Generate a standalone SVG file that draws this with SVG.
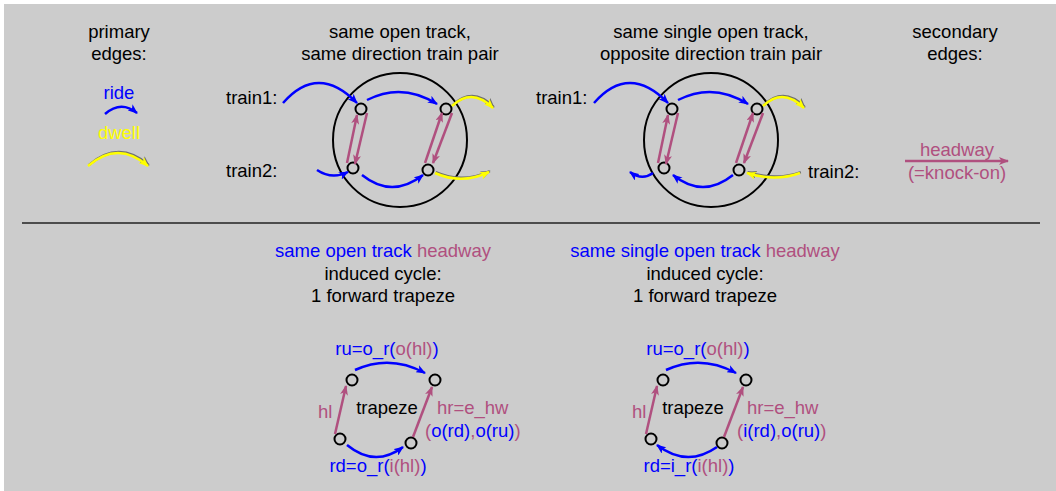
<svg xmlns="http://www.w3.org/2000/svg" width="1056" height="491" viewBox="0 0 1056 491">
<style>
text{font-family:"Liberation Sans",Arial,sans-serif;font-size:18.5px;fill:#000}
.c{text-anchor:middle}
.b{fill:#0000ff}
.p{fill:#b0507f}
.y{fill:#ffff00}
.eb{fill:none;stroke:#0000ff;stroke-width:2.5;marker-end:url(#ab)}
.ep{fill:none;stroke:#b0507f;stroke-width:2.5;marker-end:url(#ap)}
.ey{fill:none;stroke:#ffff00;stroke-width:2.5;marker-end:url(#ay)}
.es{fill:none;stroke:#707070;stroke-width:2.5;marker-end:url(#as)}
.n{fill:none;stroke:#000;stroke-width:2}
.ring{fill:none;stroke:#000;stroke-width:2}
</style>
<defs>
<marker id="ab" markerUnits="userSpaceOnUse" markerWidth="11" markerHeight="8" refX="9" refY="4" orient="auto"><path d="M0,0 L10,4 L0,8 L2.5,4 z" fill="#0000ff"/></marker>
<marker id="ap" markerUnits="userSpaceOnUse" markerWidth="11" markerHeight="8" refX="9" refY="4" orient="auto"><path d="M0,0 L10,4 L0,8 L2.5,4 z" fill="#b0507f"/></marker>
<marker id="ay" markerUnits="userSpaceOnUse" markerWidth="11" markerHeight="8" refX="9" refY="4" orient="auto"><path d="M0,0 L10,4 L0,8 L2.5,4 z" fill="#ffff00"/></marker>
<marker id="as" markerUnits="userSpaceOnUse" markerWidth="11" markerHeight="8" refX="9" refY="4" orient="auto"><path d="M0,0 L10,4 L0,8 L2.5,4 z" fill="#707070"/></marker>
</defs>
<rect x="0" y="0" width="1056" height="491" fill="#ffffff"/>
<rect x="4" y="4" width="1052" height="487" fill="#cccccc"/>
<line x1="22" y1="223" x2="1040" y2="223" stroke="#222" stroke-width="1.5"/>

<g id="legend-primary">
<text class="c" x="119" y="38">primary</text>
<text class="c" x="119" y="60">edges:</text>
<text class="c b" x="119" y="99">ride</text>
<text class="c y" x="119" y="139">dwell</text>
</g>
<g id="legend-secondary">
<text class="c" x="955" y="38">secondary</text>
<text class="c" x="955" y="60">edges:</text>
<text class="c p" x="957" y="156">headway</text>
<text class="c p" x="957" y="179">(=knock-on)</text>
</g>

<g id="title1"><text class="c" x="400" y="38">same open track,</text><text class="c" x="400" y="60">same direction train pair</text></g>
<g id="title2"><text class="c" x="711" y="38">same single open track,</text><text class="c" x="711" y="60">opposite direction train pair</text></g>

<g id="circle1">
<circle class="ring" cx="400" cy="140" r="67"/>
<text x="226" y="104">train1:</text>
<text x="226" y="177">train2:</text>
<circle class="n" cx="361" cy="109" r="5.5"/>
<circle class="n" cx="446" cy="109" r="5.5"/>
<circle class="n" cx="353" cy="168" r="5.5"/>
<circle class="n" cx="428" cy="170" r="5.5"/>
</g>
<g id="circle2">
<circle class="ring" cx="711" cy="140" r="67"/>
<text x="536" y="104">train1:</text>
<text x="808" y="178">train2:</text>
<circle class="n" cx="672" cy="109" r="5.5"/>
<circle class="n" cx="757" cy="109" r="5.5"/>
<circle class="n" cx="664" cy="168" r="5.5"/>
<circle class="n" cx="739" cy="170" r="5.5"/>
</g>

<g id="trapeze1">
<circle class="n" cx="352" cy="380" r="5.5"/>
<circle class="n" cx="435" cy="380" r="5.5"/>
<circle class="n" cx="340" cy="439" r="5.5"/>
<circle class="n" cx="411" cy="443" r="5.5"/>
<text class="c" x="383" y="257"><tspan class="b">same open track </tspan><tspan class="p">headway</tspan></text>
<text class="c" x="383" y="280">induced cycle:</text>
<text class="c" x="383" y="302">1 forward trapeze</text>
<text class="c b" x="387" y="355">ru=o_r(<tspan class="p">o(hl)</tspan>)</text>
<text class="c" x="387" y="414">trapeze</text>
<text class="p" x="318" y="418">hl</text>
<text class="p" x="437" y="414">hr=e_hw</text>
<text class="p" x="425" y="437">(<tspan class="b">o(rd)</tspan>,<tspan class="b">o(ru)</tspan>)</text>
<text class="c b" x="378" y="472">rd=o_r(<tspan class="p">i(hl)</tspan>)</text>
</g>
<g id="trapeze2">
<circle class="n" cx="663" cy="380" r="5.5"/>
<circle class="n" cx="746" cy="380" r="5.5"/>
<circle class="n" cx="651" cy="439" r="5.5"/>
<circle class="n" cx="722" cy="443" r="5.5"/>
<text class="c" x="705" y="257"><tspan class="b">same single open track </tspan><tspan class="p">headway</tspan></text>
<text class="c" x="705" y="280">induced cycle:</text>
<text class="c" x="705" y="302">1 forward trapeze</text>
<text class="c b" x="698" y="355">ru=o_r(<tspan class="p">o(hl)</tspan>)</text>
<text class="c" x="693" y="414">trapeze</text>
<text class="p" x="632" y="418">hl</text>
<text class="p" x="747" y="414">hr=e_hw</text>
<text class="p" x="737" y="437">(<tspan class="b">i(rd)</tspan>,<tspan class="b">o(ru)</tspan>)</text>
<text class="c b" x="689" y="472">rd=i_r(<tspan class="p">i(hl)</tspan>)</text>
</g>

<g id="connectors">
<!-- legend -->
<path class="eb" d="M105,114 Q121,100 137,113"/>
<g transform="translate(0.8,-0.9)"><path class="es" d="M88,166 Q118,140 148,166"/></g>
<path class="ey" d="M88,166 Q118,140 148,166"/>
<path class="ep" d="M905,161 L1008,161"/>
<!-- circle 1 -->
<path class="eb" d="M283,103 Q318,63 357,103"/>
<path class="eb" d="M367,100 Q402,82 437,104"/>
<path class="eb" d="M317,170 Q332,180 348,172"/>
<path class="eb" d="M362,175 Q392,199 423,175"/>
<g transform="translate(0.8,-0.9)">
<path class="es" d="M452,106 Q472,87 493,108"/>
<path class="es" d="M435,173 Q462,185 489,172"/>
</g>
<path class="ey" d="M452,106 Q472,87 493,108"/>
<path class="ey" d="M435,173 Q462,185 489,172"/>
<path class="ep" d="M347,163 L357,115"/>
<path class="ep" d="M367,113 L355,164"/>
<path class="ep" d="M425,163 L442,113"/>
<path class="ep" d="M452,113 L433,163"/>
<!-- circle 2 -->
<path class="eb" d="M594,103 Q629,63 668,103"/>
<path class="eb" d="M678,100 Q713,82 748,104"/>
<path class="eb" d="M733,175 Q703,199 673,175"/>
<path class="eb" d="M653,173 Q642,181 630,172"/>
<g transform="translate(0.8,-0.9)">
<path class="es" d="M763,106 Q783,87 804,108"/>
<path class="es" d="M800,173 Q775,182 747,173"/>
</g>
<path class="ey" d="M763,106 Q783,87 804,108"/>
<path class="ey" d="M800,173 Q775,182 747,173"/>
<path class="ep" d="M658,163 L668,115"/>
<path class="ep" d="M678,113 L666,164"/>
<path class="ep" d="M736,163 L753,113"/>
<path class="ep" d="M763,113 L744,163"/>
<!-- trapeze 1 -->
<path class="eb" d="M355,370 Q390,354 425,373"/>
<path class="eb" d="M347,445 Q375,468 403,447"/>
<path class="ep" d="M335,434 L346,386"/>
<path class="ep" d="M413,437 L432,387"/>
<!-- trapeze 2 -->
<path class="eb" d="M666,370 Q701,354 736,373"/>
<path class="eb" d="M717,447 Q687,468 657,445"/>
<path class="ep" d="M646,434 L657,386"/>
<path class="ep" d="M724,437 L743,387"/>
</g>
</svg>
